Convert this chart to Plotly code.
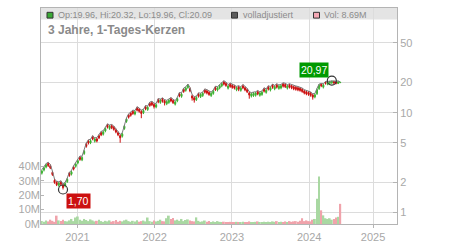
import math
import plotly.graph_objects as go
import pandas as pd

# ---------------- data ----------------
dates = pd.date_range("2020-07-17", periods=142, freq="10D")

opens = [
    2.48, 2.66, 2.85, 3.1, 2.94, 2.52, 2.1, 2.0, 1.87, 2.02,
    1.87, 1.85, 2.04, 2.47, 2.42, 2.86, 2.9, 3.14, 3.57, 3.37,
    3.9, 4.83, 5.2, 4.99, 5.72, 5.18, 5.46, 5.88, 6.3, 6.08,
    6.56, 7.51, 6.94, 7.4, 7.14, 6.72, 6.3, 5.88, 5.8, 6.94,
    8.17, 9.45, 9.87, 10.29, 9.69, 11.13, 10.82, 10.29, 9.98, 11.45,
    10.74, 12.39, 12.6, 12.08, 11.4, 13.44, 12.64, 13.65, 13.13, 12.26,
    12.64, 13.76, 13.23, 12.16, 13.11, 15.44, 14.54, 17.12, 16.72, 17.86,
    17.33, 14.7, 14.07, 13.49, 15.33, 14.44, 14.82, 16.8, 16.49, 15.96,
    14.82, 15.58, 17.85, 16.82, 17.67, 18.53, 20.27, 19.64, 17.58, 19.22,
    18.8, 18.48, 16.91, 18.06, 16.72, 18.59, 17.75, 17.01, 15.75, 14.63,
    14.82, 14.92, 16.17, 14.92, 15.2, 17.22, 15.96, 18.06, 16.82, 18.8,
    17.29, 18.9, 17.48, 17.67, 19.32, 19.11, 17.58, 18.9, 18.59, 18.17,
    17.96, 17.75, 17.54, 17.12, 16.49, 16.17, 15.96, 15.65, 15.02, 14.35,
    15.5, 17.4, 19.3, 18.0, 20.2, 19.2, 19.6, 19.9, 20.5, 20.3, 19.6, 19.96,
]
highs = [
    2.68, 2.89, 3.09, 3.19, 3.03, 2.6, 2.16, 2.06, 2.03, 2.08,
    1.93, 2.01, 2.21, 2.54, 2.63, 2.94, 3.14, 3.4, 3.68, 3.66,
    4.22, 4.97, 5.35, 5.41, 5.89, 5.61, 5.62, 6.06, 6.49, 6.59,
    7.11, 7.73, 7.52, 7.62, 7.35, 6.92, 6.49, 6.06, 6.28, 7.52,
    8.86, 9.73, 10.17, 10.6, 10.51, 11.46, 11.14, 10.6, 10.82, 11.79,
    11.64, 12.76, 12.98, 12.44, 12.36, 13.84, 13.7, 14.06, 13.52, 13.29,
    13.7, 14.17, 13.63, 13.18, 14.21, 15.9, 15.76, 17.63, 18.13, 19.36,
    17.85, 15.14, 14.49, 14.63, 15.79, 15.66, 16.07, 17.3, 16.98, 16.44,
    16.07, 16.89, 18.39, 18.23, 19.16, 20.09, 20.88, 20.23, 19.06, 19.8,
    19.36, 19.03, 18.33, 18.6, 18.13, 19.15, 18.28, 17.52, 16.22, 15.86,
    16.07, 16.17, 16.66, 16.17, 16.48, 17.74, 17.3, 18.6, 18.23, 19.36,
    18.75, 19.47, 18.95, 19.16, 19.9, 19.68, 19.06, 19.47, 19.15, 18.71,
    18.5, 18.28, 18.07, 17.63, 16.98, 16.66, 16.44, 16.12, 15.47, 15.55,
    17.51, 19.36, 19.6, 19.47, 20.5, 20.6, 20.8, 20.97, 20.8, 20.6, 20.8, 20.32,
]
lows = [
    2.40, 2.58, 2.77, 2.86, 2.72, 2.33, 1.94, 1.84, 1.81, 1.86,
    1.70, 1.79, 1.98, 2.28, 2.35, 2.64, 2.81, 3.04, 3.3, 3.27,
    3.78, 4.46, 4.8, 4.84, 5.29, 5.02, 5.04, 5.43, 5.82, 5.9,
    6.36, 6.94, 6.73, 6.84, 6.6, 6.21, 5.82, 5.0, 5.63, 6.73,
    7.92, 8.73, 9.12, 9.51, 9.4, 10.28, 9.99, 8.8, 9.68, 10.57,
    10.42, 11.45, 11.64, 11.0, 11.06, 12.42, 12.26, 12.61, 11.8, 11.89,
    12.26, 12.71, 12.22, 11.8, 12.72, 14.26, 14.1, 15.81, 16.22, 17.32,
    16.0, 13.2, 12.6, 13.09, 14.16, 14.01, 14.38, 15.52, 15.23, 14.74,
    14.38, 15.11, 16.49, 16.31, 17.14, 17.97, 18.72, 18.14, 17.05, 17.75,
    17.36, 17.07, 16.4, 16.4, 16.22, 17.17, 16.39, 15.71, 13.8, 14.19,
    14.38, 14.47, 14.94, 14.47, 14.74, 15.91, 15.48, 16.68, 16.31, 17.36,
    16.77, 17.46, 16.96, 17.14, 17.85, 17.65, 17.05, 17.46, 17.17, 16.78,
    16.59, 16.39, 16.2, 15.81, 15.23, 14.94, 14.74, 14.45, 13.5, 13.92,
    15.04, 16.88, 18.0, 17.46, 19.1, 18.8, 19.1, 19.4, 19.3, 19.2, 19.3, 19.96,
]
closes = [
    2.6, 2.8, 3.0, 2.95, 2.8, 2.4, 2.0, 1.9, 1.97, 1.92,
    1.78, 1.95, 2.15, 2.35, 2.55, 2.72, 3.05, 3.3, 3.4, 3.55,
    4.1, 4.6, 4.95, 5.25, 5.45, 5.45, 5.2, 5.6, 6.0, 6.4,
    6.9, 7.15, 7.3, 7.05, 6.8, 6.4, 6.0, 5.6, 6.1, 7.3,
    8.6, 9.0, 9.4, 9.8, 10.2, 10.6, 10.3, 9.8, 10.5, 10.9,
    11.3, 11.8, 12.0, 11.5, 12.0, 12.8, 13.3, 13.0, 12.5, 12.9,
    13.3, 13.1, 12.6, 12.8, 13.8, 14.7, 15.3, 16.3, 17.6, 18.8,
    16.5, 14.0, 13.4, 14.2, 14.6, 15.2, 15.6, 16.0, 15.7, 15.2,
    15.6, 16.4, 17.0, 17.7, 18.6, 19.5, 19.3, 18.7, 18.5, 18.3,
    17.9, 17.6, 17.8, 17.2, 17.6, 17.7, 16.9, 16.2, 15.0, 15.4,
    15.6, 15.7, 15.4, 15.7, 16.0, 16.4, 16.8, 17.2, 17.7, 17.9,
    18.2, 18.0, 18.4, 18.6, 18.4, 18.2, 18.5, 18.0, 17.7, 17.3,
    17.1, 16.9, 16.7, 16.3, 15.7, 15.4, 15.2, 14.9, 14.3, 15.1,
    17.0, 18.8, 18.6, 18.9, 19.7, 20.1, 20.5, 20.6, 19.8, 19.7, 20.3, 20.09,
]
volumes_m = [
    2.0, 1.5, 2.5, 1.8, 3.0, 2.2, 1.5, 5.8, 2.5, 2.0,
    3.0, 2.0, 1.8, 2.5, 3.5, 2.0, 4.5, 5.2, 3.0, 2.2,
    3.5, 2.8, 2.0, 3.2, 2.5, 1.8, 2.2, 3.0, 2.0, 1.5,
    2.2, 1.8, 2.5, 1.6, 2.0, 2.8, 1.5, 2.2, 1.8, 2.5,
    3.0, 2.0, 1.5, 2.2, 1.8, 2.6, 1.6, 2.0, 2.4, 1.8,
    4.5, 2.0, 1.6, 2.5, 1.8, 2.2, 3.0, 2.0, 1.8, 4.0,
    5.8, 3.5, 4.2, 2.5, 3.0, 2.2, 3.5, 2.0, 2.8, 3.2,
    2.5, 2.0, 1.8, 4.6, 2.2, 1.5, 1.8, 2.4, 1.6, 2.0,
    1.4, 1.8, 1.2, 2.0, 1.5, 1.2, 1.6, 1.4, 1.2, 1.5,
    1.0, 1.2, 1.5, 1.3, 1.1, 1.6, 1.2, 1.4, 1.8, 1.3,
    1.2, 1.5, 1.8, 1.3, 1.1, 1.5, 1.2, 1.6, 1.4, 1.8,
    1.5, 2.0, 1.3, 1.6, 1.2, 1.8, 1.4, 2.0, 1.5, 1.8,
    2.0, 1.6, 2.2, 4.0, 2.0, 2.5, 2.0, 1.8, 3.0, 3.5,
    17.5, 33.0, 9.5, 6.0, 4.0, 3.5, 4.0, 3.0, 3.5, 4.5, 5.0, 14.0,
]
assert len(opens) == len(highs) == len(lows) == len(closes) == len(volumes_m) == len(dates)

year_tick_dates = ["2021-01-01", "2022-01-01", "2023-01-01", "2024-01-01", "2024-10-29"]
year_tick_text = ["2021", "2022", "2023", "2024", "2025"]
price_ticks = [1, 2, 5, 10, 20, 50]
vol_ticks_m = [0, 10, 20, 30, 40]

legend_ohlc = "Op:19.96, Hi:20.32, Lo:19.96, Cl:20.09"
legend_adj = "volladjustiert"
legend_vol = "Vol: 8.69M"
title_text = "3 Jahre, 1-Tages-Kerzen"

# ---------------- styling ----------------
FONT = "Liberation Sans, Arial, sans-serif"
GREEN = "#3db133"
RED = "#cc1010"
VOL_GREEN = "#a9d8a2"
VOL_PINK = "#f0a3ab"
GRID = "#dcdcdc"
AXIS = "#b4b4b4"
TICKFONT = dict(family=FONT, size=11, color="#a8a8a8")

W, H = 450, 250
L, R, T, B = 41, 53, 7, 18
PW, PH = W - L - R, H - T - B


def px(x):
    return (x - L) / PW


def py(y):
    return (H - B - y) / PH


vol_colors = []
for i in range(len(closes)):
    prev = closes[i - 1] if i > 0 else opens[0]
    vol_colors.append(VOL_GREEN if closes[i] >= prev else VOL_PINK)

fig = go.Figure()

fig.add_trace(go.Bar(
    x=dates, y=[v * 1e6 for v in volumes_m], yaxis="y2",
    marker=dict(color=vol_colors, line=dict(width=0)),
    hoverinfo="skip", showlegend=False,
))

fig.add_trace(go.Scatter(
    x=dates, y=highs, mode="lines",
    line=dict(color="#7a7a7a", width=1),
    hoverinfo="skip", showlegend=False,
))

fig.add_trace(go.Candlestick(
    x=dates, open=opens, high=highs, low=lows, close=closes,
    increasing=dict(line=dict(color=GREEN, width=1), fillcolor=GREEN),
    decreasing=dict(line=dict(color=RED, width=1), fillcolor=RED),
    whiskerwidth=0, showlegend=False, hoverinfo="skip",
))

i_lo = min(range(len(lows)), key=lambda i: lows[i])
i_hi = max(range(len(highs)), key=lambda i: highs[i])
fig.add_trace(go.Scatter(
    x=[dates[i_lo], dates[i_hi]], y=[lows[i_lo], highs[i_hi]], mode="markers",
    marker=dict(symbol="circle-open", size=9, color="#333333", line=dict(width=1.2)),
    hoverinfo="skip", showlegend=False,
))

annotations = [
    dict(x=dates[i_lo], y=math.log10(lows[i_lo]), yref="y", xref="x",
         text=f"{lows[i_lo]:.2f}".replace(".", ","), showarrow=False,
         xanchor="left", yanchor="top", xshift=3, yshift=-3,
         bgcolor=RED, borderpad=1, font=dict(family=FONT, size=10.5, color="white")),
    dict(x=dates[i_hi], y=math.log10(highs[i_hi]), yref="y", xref="x",
         text=f"{highs[i_hi]:.2f}".replace(".", ","), showarrow=False,
         xanchor="right", yanchor="bottom", xshift=-3, yshift=3,
         bgcolor="#009a00", borderpad=1, font=dict(family=FONT, size=10.5, color="white")),
    dict(x=px(56), y=py(14.5), xref="paper", yref="paper", text=legend_ohlc,
         showarrow=False, xanchor="left", yanchor="middle",
         font=dict(family=FONT, size=9, color="#8c8c8c")),
    dict(x=px(241), y=py(14.5), xref="paper", yref="paper", text=legend_adj,
         showarrow=False, xanchor="left", yanchor="middle",
         font=dict(family=FONT, size=9, color="#8c8c8c")),
    dict(x=px(322), y=py(14.5), xref="paper", yref="paper", text=legend_vol,
         showarrow=False, xanchor="left", yanchor="middle",
         font=dict(family=FONT, size=9, color="#8c8c8c")),
    dict(x=px(46), y=py(29.5), xref="paper", yref="paper", text=f"<b>{title_text}</b>",
         showarrow=False, xanchor="left", yanchor="middle",
         font=dict(family=FONT, size=12, color="#8a8a8a")),
]

shapes = [
    dict(type="rect", xref="paper", yref="paper", x0=0, x1=1, y0=py(19), y1=1,
         fillcolor="#e4e4e4", line=dict(width=0), layer="below"),
]
for x0, col in [(47, "#3aa935"), (231.5, "#5a5a5a"), (313.5, "#f4a8b4")]:
    shapes.append(dict(type="rect", xref="paper", yref="paper",
                       x0=px(x0), x1=px(x0 + 6), y0=py(17.5), y1=py(11.5),
                       fillcolor=col, line=dict(color="#333333", width=1)))

fig.update_layout(
    width=W, height=H,
    margin=dict(l=L, r=R, t=T, b=B, pad=0),
    paper_bgcolor="white", plot_bgcolor="white",
    showlegend=False, bargap=0.15,
    font=dict(family=FONT),
    xaxis=dict(
        type="date",
        range=["2020-07-13", "2025-02-19"],
        tickvals=year_tick_dates, ticktext=year_tick_text,
        showgrid=True, gridcolor=GRID, gridwidth=1,
        showline=True, linecolor=AXIS, linewidth=1, mirror=True,
        ticks="outside", ticklen=3, tickcolor=AXIS,
        tickfont=TICKFONT, rangeslider=dict(visible=False), zeroline=False,
    ),
    yaxis=dict(
        type="log", side="right",
        range=[-0.115, 2.048],
        tickvals=price_ticks, ticktext=[str(t) for t in price_ticks],
        showgrid=True, gridcolor=GRID, gridwidth=1,
        showline=True, linecolor=AXIS, linewidth=1, mirror=True,
        ticks="inside", ticklen=4, tickcolor=AXIS,
        tickfont=TICKFONT, zeroline=False,
    ),
    yaxis2=dict(
        overlaying="y", side="left",
        range=[0, 150e6],
        tickvals=[v * 1e6 for v in vol_ticks_m], ticktext=[f"{v}M" for v in vol_ticks_m],
        showgrid=False, showline=False, zeroline=False,
        ticks="inside", ticklen=3, tickcolor=AXIS,
        tickfont=TICKFONT,
    ),
    annotations=annotations,
    shapes=shapes,
)

fig.write_html("out.html")
